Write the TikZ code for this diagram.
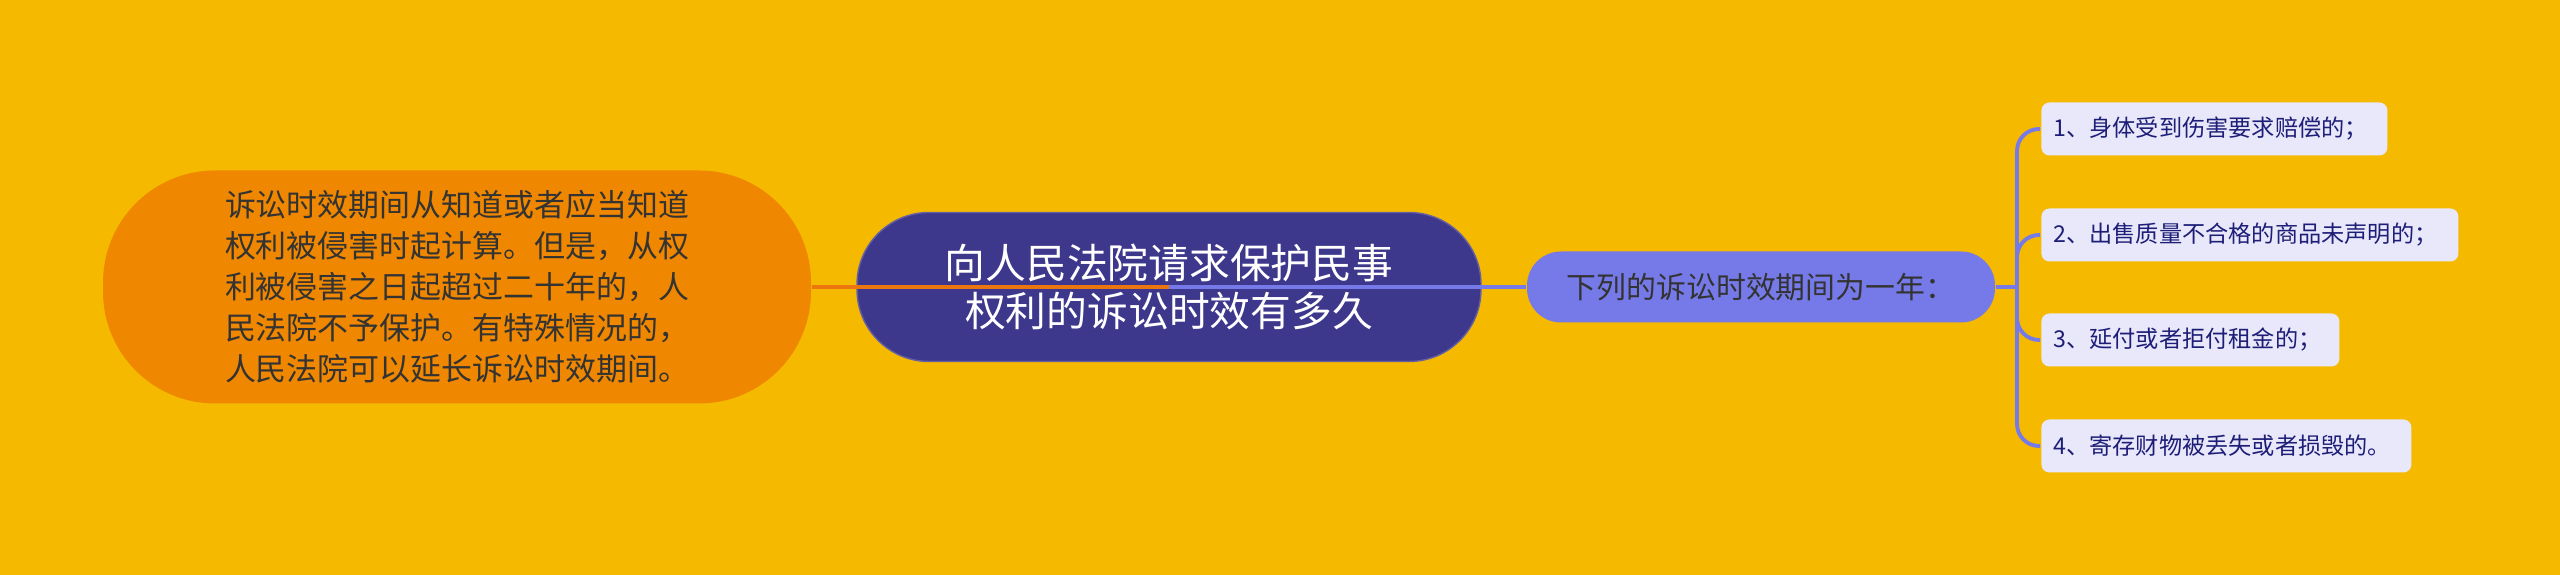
\documentclass[tikz,border=0pt]{standalone}
\usepackage{fontspec}
\setmainfont{Noto Sans CJK SC}

\definecolor{bgyellow}{RGB}{245,185,0}
\definecolor{noteorange}{RGB}{239,135,0}
\definecolor{linkorange}{RGB}{235,118,16}
\definecolor{rootblue}{RGB}{62,56,140}
\definecolor{rulepurple}{RGB}{118,122,232}
\definecolor{leaffill}{RGB}{232,232,250}
\definecolor{leaftext}{RGB}{30,30,120}
\definecolor{darktext}{RGB}{51,51,51}

\begin{document}
\begin{tikzpicture}[thick,
  root/.style={fill=rootblue,draw=rootblue!80!white,line width=0.4pt,text=white,
    minimum width=6.24cm,minimum height=1.49cm,rounded corners=0.72cm,
    align=center,font=\fontsize{11.6pt}{13.4pt}\selectfont},
  note/.style={fill=noteorange,text=darktext,minimum width=7.08cm,minimum height=2.33cm,
    rounded corners=1.12cm,align=left,font=\fontsize{8.8pt}{11.7pt}\selectfont},
  rule/.style={fill=rulepurple,text=darktext,minimum width=4.68cm,minimum height=0.71cm,
    rounded corners=0.34cm,font=\fontsize{8.5pt}{10pt}\selectfont},
  leaf/.style={fill=leaffill,text=leaftext,anchor=west,minimum height=0.53cm,
    inner xsep=0.12cm,align=left,rounded corners=0.08cm,
    font=\fontsize{6.6pt}{8pt}\selectfont},
  orangelink/.style={draw=linkorange,line width=0.9pt},
  purplelink/.style={draw=rulepurple,line width=1.1pt}]

\fill[bgyellow] (0,0) rectangle (25.6,5.75);
\useasboundingbox (0,0) rectangle (25.6,5.75);

\node[root] (root) at (11.69,2.88) {向人民法院请求保护民事\\权利的诉讼时效有多久};
\node[note] (note) at (4.57,2.88) {诉讼时效期间从知道或者应当知道\\权利被侵害时起计算。但是，从权\\利被侵害之日起超过二十年的，人\\民法院不予保护。有特殊情况的，\\人民法院可以延长诉讼时效期间。};
\node[rule] (rule) at (17.61,2.88) {下列的诉讼时效期间为一年：};

\coordinate (fork) at (20.17,2.88);

\node[leaf,text width=3.22cm] (item1) at (20.40,4.46) {1、身体受到伤害要求赔偿的；};
\node[leaf,text width=3.93cm] (item2) at (20.40,3.40) {2、出售质量不合格的商品未声明的；};
\node[leaf,text width=2.74cm] (item3) at (20.40,2.35) {3、延付或者拒付租金的；};
\node[leaf,text width=3.46cm] (item4) at (20.40,1.29) {4、寄存财物被丢失或者损毁的。};

\draw[orangelink] (root.center) -- (note.east);
\draw[purplelink] (root.center) -- (rule.west);
\draw[purplelink] (rule.east) -- (fork);
\foreach \i in {1,...,4}
  \draw[purplelink,rounded corners=0.22cm] (fork) |- (item\i.west);

\end{tikzpicture}
\end{document}
